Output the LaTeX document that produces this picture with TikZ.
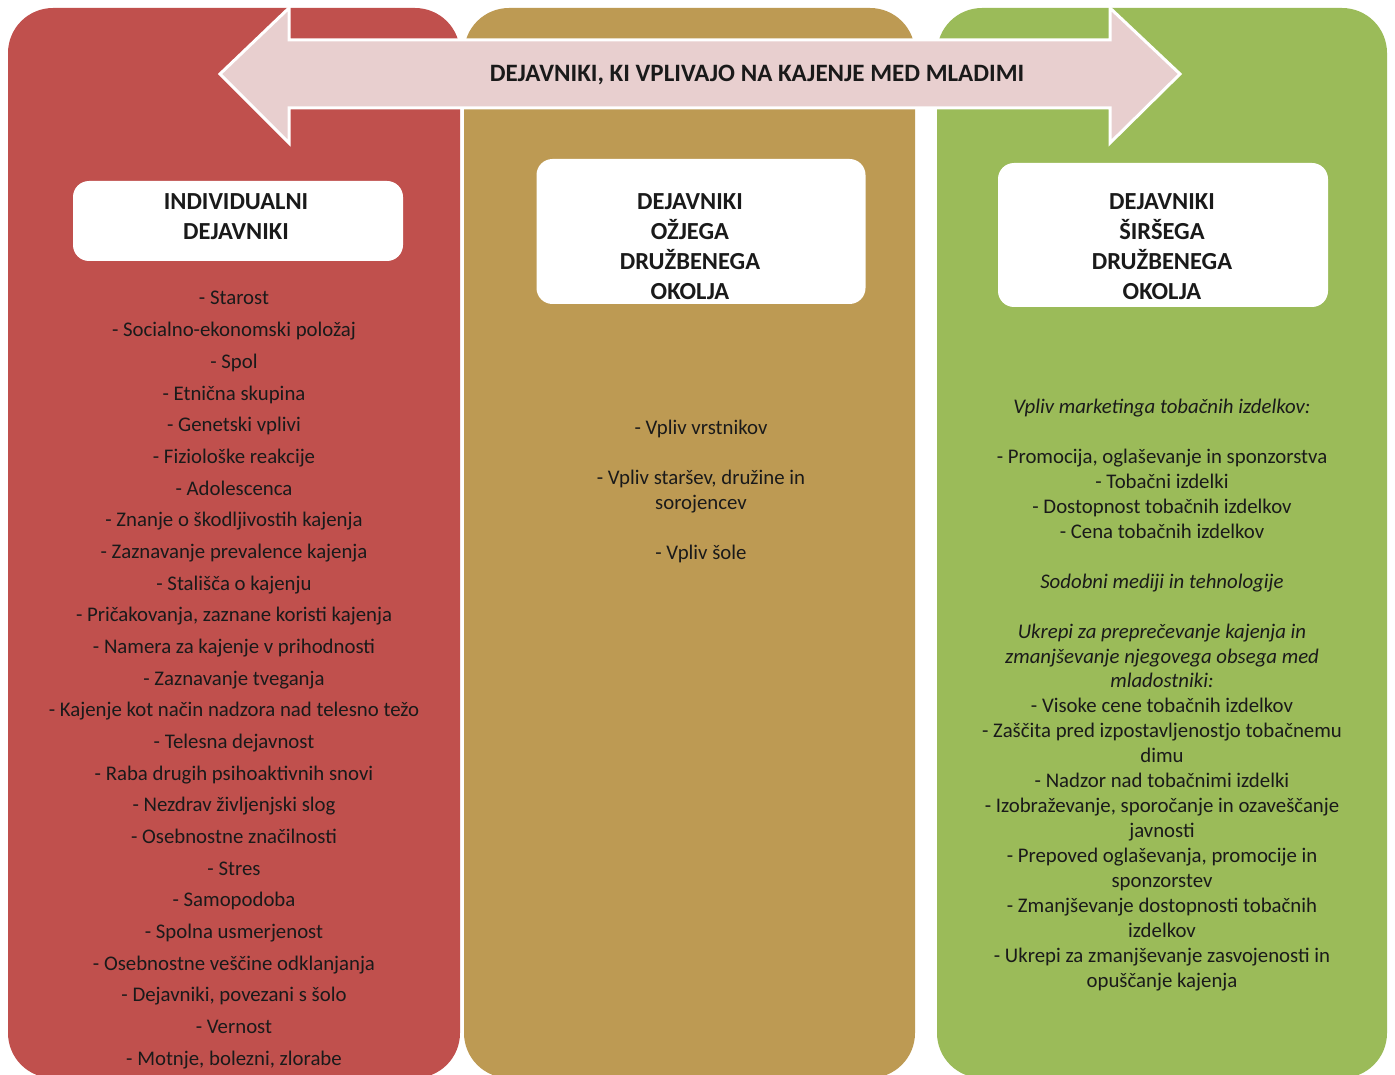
\documentclass[tikz,border=0pt]{standalone}
\usepackage{fontspec}
\setmainfont{Carlito}
\definecolor{pred}{HTML}{C0504D}
\definecolor{pgold}{HTML}{BD9A53}
\definecolor{pgreen}{HTML}{9BBB59}
\definecolor{arrowfill}{HTML}{E8CFCF}
\definecolor{ink}{HTML}{1A1A1A}
\begin{document}
\begin{tikzpicture}[x=1pt,y=-1pt,
  panel/.style={rounded corners=45pt},
  titlebox/.style={draw=none,fill=white,rounded corners=16pt,inner sep=0pt},
  boxtitle/.style={font=\fontsize{24.5}{30}\selectfont\bfseries,text=ink,align=center,inner sep=0pt,anchor=base},
  item/.style={font=\fontsize{20.8}{25}\selectfont,text=ink,inner sep=0pt,anchor=base},
  itemit/.style={item,font=\fontsize{20.8}{25}\selectfont\itshape}]
\useasboundingbox (0,0) rectangle (1395,1075);
\fill[white] (0,0) rectangle (1395,1075);
% panels
\fill[pred,panel] (8,8) rectangle (460,1078);
\fill[pgold,panel] (464,8) rectangle (915,1078);
\fill[pgreen,panel] (937,8) rectangle (1387,1078);
% double arrow
\draw[fill=arrowfill,draw=white,line width=3pt,line join=miter]
  (220,74) -- (289,8) -- (289,40) -- (1110,40) -- (1110,8) -- (1180,74)
  -- (1110,143) -- (1110,108) -- (289,108) -- (289,143) -- cycle;
\node[font=\fontsize{25}{25}\selectfont\bfseries,text=ink,inner sep=0pt,anchor=base] (maintitle) at (757,82) {DEJAVNIKI, KI VPLIVAJO NA KAJENJE MED MLADIMI};
% title boxes
\node[titlebox,minimum width=330pt,minimum height=80pt] (boxL) at (238,221) {};
\node[titlebox,minimum width=329pt,minimum height=145pt] (boxM) at (701,231.5) {};
\node[titlebox,minimum width=330pt,minimum height=144pt] (boxR) at (1163,235) {};
\node[boxtitle] (tL1) at (236,209.5) {INDIVIDUALNI};
\node[boxtitle] (tL2) at (236,239.5) {DEJAVNIKI};
\foreach \t [count=\i] in {DEJAVNIKI,OŽJEGA,DRUŽBENEGA,OKOLJA}
  \node[boxtitle] (tM\i) at (690,{209.5+(\i-1)*30}) {\t};
\foreach \t [count=\i] in {DEJAVNIKI,ŠIRŠEGA,DRUŽBENEGA,OKOLJA}
  \node[boxtitle] (tR\i) at (1162,{209.5+(\i-1)*30}) {\t};
% left column
\foreach \t [count=\i] in {- Starost,- Socialno-ekonomski položaj,- Spol,- Etnična skupina,- Genetski vplivi,- Fiziološke reakcije,- Adolescenca,- Znanje o škodljivostih kajenja,- Zaznavanje prevalence kajenja,- Stališča o kajenju,{- Pričakovanja, zaznane koristi kajenja},- Namera za kajenje v prihodnosti,- Zaznavanje tveganja,- Kajenje kot način nadzora nad telesno težo,- Telesna dejavnost,- Raba drugih psihoaktivnih snovi,- Nezdrav življenjski slog,- Osebnostne značilnosti,- Stres,- Samopodoba,- Spolna usmerjenost,- Osebnostne veščine odklanjanja,{- Dejavniki, povezani s šolo},- Vernost,{- Motnje, bolezni, zlorabe}}
  \node[item] (L\i) at (234,{305+(\i-1)*31.67}) {\t};
% middle column
\node[item] (M1) at (701,434) {- Vpliv vrstnikov};
\node[item] (M2) at (701,484) {- Vpliv staršev, družine in};
\node[item] (M3) at (701,509) {sorojencev};
\node[item] (M4) at (701,559) {- Vpliv šole};
% right column
\node[itemit] (R1) at (1162,413) {Vpliv marketinga tobačnih izdelkov:};
\node[item] (R2) at (1162,463) {- Promocija, oglaševanje in sponzorstva};
\node[item] (R3) at (1162,488) {- Tobačni izdelki};
\node[item] (R4) at (1162,513) {- Dostopnost tobačnih izdelkov};
\node[item] (R5) at (1162,538) {- Cena tobačnih izdelkov};
\node[itemit] (R6) at (1162,588) {Sodobni mediji in tehnologije};
\node[itemit] (R7) at (1162,638) {Ukrepi za preprečevanje kajenja in};
\node[itemit] (R8) at (1162,663) {zmanjševanje njegovega obsega med};
\node[itemit] (R9) at (1162,687) {mladostniki:};
\node[item] (R10) at (1162,712) {- Visoke cene tobačnih izdelkov};
\node[item] (R11) at (1162,737) {- Zaščita pred izpostavljenostjo tobačnemu};
\node[item] (R12) at (1162,762) {dimu};
\node[item] (R13) at (1162,787) {- Nadzor nad tobačnimi izdelki};
\node[item] (R14) at (1162,812) {- Izobraževanje, sporočanje in ozaveščanje};
\node[item] (R15) at (1162,837) {javnosti};
\node[item] (R16) at (1162,862) {- Prepoved oglaševanja, promocije in};
\node[item] (R17) at (1162,887) {sponzorstev};
\node[item] (R18) at (1162,912) {- Zmanjševanje dostopnosti tobačnih};
\node[item] (R19) at (1162,937) {izdelkov};
\node[item] (R20) at (1162,962) {- Ukrepi za zmanjševanje zasvojenosti in};
\node[item] (R21) at (1162,987) {opuščanje kajenja};
\end{tikzpicture}
\end{document}
